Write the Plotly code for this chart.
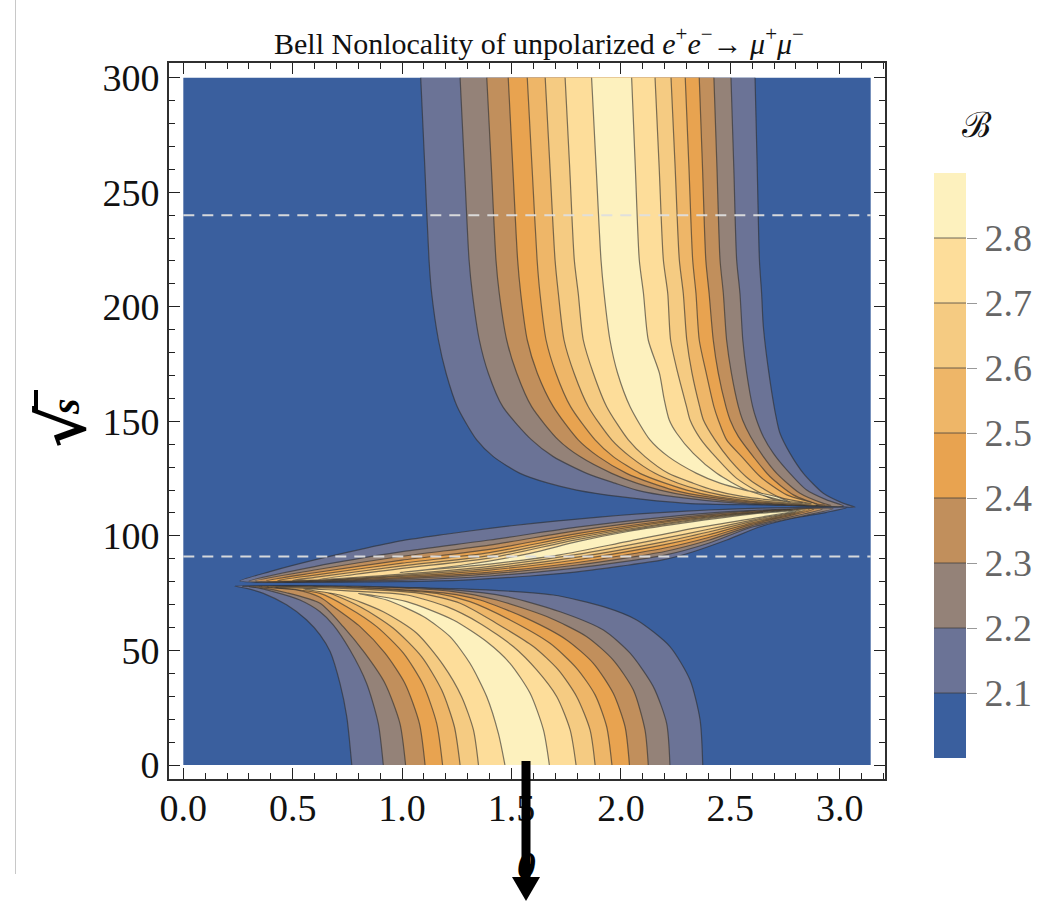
import plotly.graph_objects as go

W, H = 1058, 902

# ---------- data: contour lines as (theta, sqrt_s) ----------
levels = [2.1, 2.2, 2.3, 2.4, 2.5, 2.6, 2.7, 2.8]
band_colors = ["#6b7396", "#948278", "#c18f5c", "#e8a350", "#eeb668", "#f5cb82", "#fddd9a", "#fdf1be"]
base_color = "#3a5f9e"
colorbar_low = 2.0
colorbar_step = 0.1
colorbar_colors = [base_color] + band_colors
marked_energies = [91, 240]
theta_max = 3.1416
sqrt_s_max = 300

upper_21 = [(1.085,300),(1.104,260.6),(1.123,220.4),(1.135,205.9),(1.166,185.5),(1.201,171),(1.252,156.4),(1.341,141.9),(1.417,134.6),(1.539,127.3),(1.668,123),(1.798,120),(1.996,117.1),(2.301,114.2),(2.636,113.5),(2.94,113.1),(3.07,112.5),(3.017,114.2),(2.925,118.6),(2.834,127.3),(2.773,136),(2.727,144.8),(2.712,150.6),(2.681,168),(2.651,191.3),(2.643,205.9),(2.633,220.4),(2.623,260.6),(2.613,300)]
upper_22 = [(1.265,300),(1.285,260.6),(1.306,220.4),(1.321,205.9),(1.353,185.5),(1.394,171),(1.460,156.4),(1.592,141.9),(1.691,134.6),(1.844,127.3),(1.973,123),(2.072,120),(2.240,117.1),(2.544,114.2),(3.017,113.1),(2.94,115.7),(2.849,120),(2.758,128.8),(2.697,136),(2.651,143.3),(2.62,150.6),(2.602,156.4),(2.575,171),(2.557,185.5),(2.544,205.9),(2.529,220.4),(2.516,260.6),(2.503,300)]
upper_23 = [(1.387,300),(1.408,260.6),(1.429,220.4),(1.444,205.9),(1.478,185.5),(1.524,171),(1.592,156.4),(1.714,141.9),(1.813,134.6),(1.958,127.3),(2.072,123),(2.179,120),(2.331,117.1),(2.605,114.2),(2.96,113.3),(2.925,114.2),(2.818,118.6),(2.712,127.3),(2.651,134.6),(2.593,143.3),(2.556,150.6),(2.537,156.4),(2.505,171),(2.483,185.5),(2.468,205.9),(2.453,220.4),(2.439,260.6),(2.425,300)]
upper_24 = [(1.485,300),(1.506,260.6),(1.528,220.4),(1.542,205.9),(1.572,185.5),(1.618,171),(1.691,156.4),(1.805,141.9),(1.897,134.6),(2.026,127.3),(2.141,123),(2.240,120),(2.392,117.1),(2.66,114.2),(2.93,113.4),(2.90,113.8),(2.788,117.9),(2.681,125.9),(2.605,134.6),(2.537,143.3),(2.499,150.6),(2.48,156.4),(2.445,171),(2.422,185.5),(2.403,205.9),(2.388,220.4),(2.373,260.6),(2.358,300)]
upper_25 = [(1.572,300),(1.594,260.6),(1.617,220.4),(1.630,205.9),(1.658,185.5),(1.703,171),(1.770,156.4),(1.882,141.9),(1.965,134.6),(2.087,127.3),(2.202,123),(2.301,120),(2.438,117.1),(2.70,114.3),(2.90,113.6),(2.758,117.9),(2.636,125.9),(2.552,134.6),(2.483,141.9),(2.445,150.6),(2.425,156.4),(2.39,171),(2.358,185.5),(2.343,205.9),(2.328,220.4),(2.311,260.6),(2.294,300)]
upper_26 = [(1.654,300),(1.676,260.6),(1.699,220.4),(1.714,205.9),(1.740,185.5),(1.786,171),(1.851,156.4),(1.958,141.9),(2.042,134.6),(2.156,127.3),(2.262,123),(2.362,120),(2.499,117.1),(2.74,114.5),(2.87,114),(2.727,116.8),(2.590,124.4),(2.499,133.1),(2.430,141.9),(2.377,150.6),(2.36,156.4),(2.325,171),(2.301,185.5),(2.285,205.9),(2.267,220.4),(2.248,260.6),(2.229,300)]
upper_27 = [(1.745,300),(1.766,260.6),(1.787,220.4),(1.805,205.9),(1.828,185.5),(1.874,171),(1.935,156.4),(2.034,141.9),(2.110,134.6),(2.217,127.3),(2.331,123),(2.422,120),(2.560,117.1),(2.76,115),(2.83,114.5),(2.697,116),(2.529,125.1),(2.438,133.9),(2.362,142.6),(2.316,150.6),(2.30,156.4),(2.26,171),(2.227,185.5),(2.214,205.9),(2.194,220.4),(2.175,260.6),(2.156,300)]
upper_28 = [(1.866,300),(1.887,260.6),(1.909,220.4),(1.923,205.9),(1.950,185.5),(1.985,171),(2.042,156.4),(2.133,141.9),(2.217,134.6),(2.346,127.3),(2.453,123),(2.567,120),(2.712,117.1),(2.773,114.7),(2.758,115),(2.575,120),(2.438,127.3),(2.331,136),(2.255,144.8),(2.221,150.6),(2.197,160),(2.176,171),(2.125,185.5),(2.103,205.9),(2.084,220.4),(2.066,260.6),(2.049,300)]

lower_21 = [(0.770,0),(0.747,21.1),(0.716,35.6),(0.671,49.5),(0.625,56.8),(0.564,63.3),(0.472,69.9),(0.366,74.9),(0.290,77.1),(0.236,78.1),(0.549,78.1),(0.929,77.6),(1.386,76.4),(1.691,74.2),(1.920,69.1),(2.072,63.3),(2.224,51.7),(2.316,37.1),(2.362,19.6),(2.374,0)]
lower_22 = [(0.914,0),(0.891,18.2),(0.838,35.6),(0.762,50.2),(0.686,61.1),(0.625,66.9),(0.533,72),(0.411,75.7),(0.305,77.9),(0.27,78),(0.75,78.1),(1.234,76.4),(1.478,73.5),(1.722,66.9),(1.920,58.9),(2.042,48.8),(2.148,34.2),(2.209,18.2),(2.224,0)]
lower_23 = [(1.016,0),(0.990,18.2),(0.922,35.6),(0.830,48.8),(0.731,60.4),(0.625,70.6),(0.472,75.2),(0.335,77.6),(0.30,77.8),(0.75,77.9),(1.234,75.7),(1.432,72),(1.661,64.8),(1.844,56),(1.965,45.8),(2.057,32.7),(2.110,15.3),(2.125,0)]
lower_24 = [(1.105,0),(1.079,18.2),(1.013,35.6),(0.922,48.8),(0.808,60.4),(0.686,69.1),(0.625,73.2),(0.518,76.4),(0.350,77.8),(0.75,77.7),(1.204,74.9),(1.356,72),(1.569,64),(1.752,54.6),(1.874,44.4),(1.965,31.3),(2.019,16.7),(2.039,0)]
lower_25 = [(1.185,0),(1.158,18.2),(1.097,34.9),(1.006,48.8),(0.884,60.4),(0.747,69.1),(0.625,74.9),(0.50,76.8),(0.38,77.7),(0.75,77.5),(1.158,74.9),(1.310,71.3),(1.493,63.3),(1.676,53.1),(1.798,42.2),(1.882,30.6),(1.935,16.7),(1.959,0)]
lower_26 = [(1.265,0),(1.239,16.7),(1.181,32.7),(1.089,47.3),(0.960,59.7),(0.808,69.1),(0.625,76.4),(0.42,77.6),(0.70,77.2),(1.082,74.9),(1.265,70.6),(1.432,61.8),(1.600,51.7),(1.714,41.5),(1.798,29.8),(1.859,15.3),(1.882,0)]
lower_27 = [(1.349,0),(1.326,15.3),(1.272,29.8),(1.188,43.6),(1.067,57.5),(0.914,66.9),(0.716,74.2),(0.55,76.8),(0.75,76),(1.021,74.2),(1.204,69.1),(1.356,61.8),(1.508,51.7),(1.615,41.5),(1.707,29.8),(1.768,15.3),(1.795,0)]
lower_28 = [(1.470,0),(1.440,13.8),(1.387,29.8),(1.310,44.4),(1.219,56),(1.097,64.8),(0.930,72),(0.800,74.9),(1.021,71.3),(1.234,63.3),(1.387,53.8),(1.493,44.4),(1.585,31.3),(1.646,15.3),(1.673,0)]

middle_21 = [(0.259,80.3),(0.4,84.5),(0.6,89.5),(0.8,93.9),(1.0,97.9),(1.2,100.7),(1.4,103.3),(1.6,105.5),(1.8,107.3),(2.0,109),(2.2,110.3),(2.4,111.3),(2.6,112),(2.8,112.4),(3.03,112.3),(2.94,110.3),(2.788,107.7),(2.636,104),(2.483,98.2),(2.331,93.1),(2.19,89.5),(2.0,86.8),(1.8,84.3),(1.585,82.5),(1.28,80.7),(0.976,80),(0.6,79.7),(0.259,80.3)]
middle_22 = [(0.30,80.2),(0.6,86.6),(1.0,93.1),(1.4,98.2),(1.8,103.8),(2.2,108.2),(2.4,109.9),(2.6,111.1),(2.97,111.9),(2.6,103.9),(2.4,96.8),(2.2,91.6),(1.8,86),(1.4,82.5),(1.0,80.7),(0.6,80),(0.30,80.2)]
middle_23 = [(0.33,80.3),(0.6,85.1),(1.0,91.1),(1.4,96),(1.8,102.3),(2.2,107.3),(2.4,109.3),(2.6,110.8),(2.92,111.7),(2.6,104.5),(2.4,98.1),(2.2,93.2),(1.8,87.3),(1.4,83.4),(1.0,81.3),(0.6,80.2),(0.33,80.3)]
middle_24 = [(0.38,80.4),(0.6,83.9),(1.0,89.4),(1.4,94.1),(1.8,101),(2.2,106.5),(2.4,108.7),(2.6,110.5),(2.88,111.6),(2.6,105.1),(2.4,99.3),(2.2,94.7),(1.8,88.4),(1.4,84.2),(1.0,81.8),(0.6,80.3),(0.38,80.4)]
middle_25 = [(0.43,80.5),(0.6,82.9),(1.0,88.1),(1.4,92.7),(1.8,100),(2.2,106),(2.4,108.3),(2.6,110.2),(2.86,111.5),(2.6,105.7),(2.4,100.5),(2.2,96.2),(1.8,89.6),(1.4,85.1),(1.0,82.3),(0.6,80.5),(0.43,80.5)]
middle_26 = [(0.5,80.6),(0.6,81.9),(1.0,86.9),(1.4,91.4),(1.8,99.2),(2.2,105.4),(2.4,108),(2.6,110),(2.84,111.3),(2.6,106.3),(2.4,101.7),(2.2,97.5),(1.8,90.7),(1.4,85.8),(1.0,82.8),(0.6,80.7),(0.5,80.6)]
middle_27 = [(0.62,81),(1.0,85.8),(1.4,90.3),(1.8,98.4),(2.2,105),(2.4,107.6),(2.6,109.8),(2.82,111.2),(2.6,106.9),(2.4,102.9),(2.2,99),(1.8,91.9),(1.4,86.7),(1.0,83.3),(0.62,81)]
middle_28 = [(0.99,84),(1.28,87.3),(1.585,92.4),(1.8,97.5),(2.026,101.8),(2.331,106.2),(2.636,109.9),(2.80,110.9),(2.636,108.1),(2.331,103.3),(2.026,97.5),(1.72,91.7),(1.4,87.7),(1.1,85),(0.99,84)]

upper = [upper_21, upper_22, upper_23, upper_24, upper_25, upper_26, upper_27, upper_28]
lower = [lower_21, lower_22, lower_23, lower_24, lower_25, lower_26, lower_27, lower_28]
middle = [middle_21, middle_22, middle_23, middle_24, middle_25, middle_26, middle_27, middle_28]

title_text = "Bell Nonlocality of unpolarized <i>e</i><sup>+</sup><i>e</i><sup>−</sup>→ <i>μ</i><sup>+</sup><i>μ</i><sup>−</sup>"

# ---------- layout helpers (pixel positions in the page) ----------
def fx(p): return p / W
def fy(p): return 1 - p / H
SERIF = "Liberation Serif"

fig = go.Figure()

fig.add_trace(go.Scatter(x=[0, theta_max, theta_max, 0], y=[0, 0, sqrt_s_max, sqrt_s_max], fill="toself",
                         fillcolor=base_color, mode="lines", line=dict(width=0), hoverinfo="skip", showlegend=False))
for lobe in (upper, lower, middle):
    for curve, colour, level in zip(lobe, band_colors, levels):
        fig.add_trace(go.Scatter(
            x=[p[0] for p in curve], y=[p[1] for p in curve], mode="lines", fill="toself", fillcolor=colour,
            line=dict(color="rgba(45,45,45,0.62)", width=1.2, shape="spline", smoothing=0.7),
            name=str(level), hoverinfo="skip", showlegend=False))
for e in marked_energies:
    fig.add_trace(go.Scatter(x=[0, theta_max], y=[e, e], mode="lines", hoverinfo="skip", showlegend=False,
                             line=dict(color="rgba(222,222,222,0.95)", width=2, dash="11px,8px")))

fig.add_trace(go.Bar(x=[0] * len(colorbar_colors), y=[colorbar_step] * len(colorbar_colors),
                     base=[colorbar_low + i * colorbar_step for i in range(len(colorbar_colors))],
                     width=1, marker=dict(color=colorbar_colors, line=dict(width=0)),
                     xaxis="x2", yaxis="y2", hoverinfo="skip", showlegend=False))
for level in levels:
    fig.add_trace(go.Scatter(x=[-0.5, 0.5], y=[level, level], mode="lines", xaxis="x2", yaxis="y2",
                             line=dict(color="rgba(60,60,60,0.75)", width=1), hoverinfo="skip", showlegend=False))

axis_common = dict(showgrid=False, zeroline=False, showline=True, linecolor="#2f2f2f", linewidth=2, mirror="allticks",
                   ticks="inside", ticklen=11, tickwidth=1.2, tickcolor="#222", automargin=False,
                   tickfont=dict(family=SERIF, size=38, color="#111"))
fig.update_layout(
    width=W, height=H, margin=dict(l=0, r=0, t=0, b=0), paper_bgcolor="white", plot_bgcolor="white", barmode="overlay",
    xaxis=dict(domain=[fx(169), fx(885)], range=[-0.0654, 3.207], tick0=0, dtick=0.5, tickformat=".1f", ticklabelstandoff=-6,
               minor=dict(dtick=0.1, ticks="inside", ticklen=6, tickwidth=1.2, tickcolor="#222"), **axis_common),
    yaxis=dict(domain=[fy(779), fy(63)], range=[-6.11, 306.4], tick0=0, dtick=50,
               minor=dict(dtick=10, ticks="inside", ticklen=6, tickwidth=1.2, tickcolor="#222"), **axis_common),
    xaxis2=dict(domain=[fx(934), fx(966)], range=[-0.5, 0.5], visible=False, anchor="y2", fixedrange=True, automargin=False),
    yaxis2=dict(domain=[fy(758), fy(173)], range=[colorbar_low, 2.9], anchor="x2", side="right", tickvals=levels,
                ticktext=[f"{v:.1f}" for v in levels], ticks="outside", ticklen=10, tickwidth=1, tickcolor="#999",
                showgrid=False, zeroline=False, showline=False, automargin=False,
                tickfont=dict(family=SERIF, size=38, color="#666")),
    annotations=[
        dict(text=title_text, x=fx(539), y=fy(41), xref="paper", yref="paper", showarrow=False, xanchor="center", yanchor="middle",
             font=dict(family=SERIF, size=30, color="#111")),
        dict(text="ℬ", x=fx(977), y=fy(125), xref="paper", yref="paper", showarrow=False, xanchor="center", yanchor="middle",
             font=dict(family="DejaVu Serif", size=35, color="#111")),
        dict(text="<b>√</b>", x=fx(62), y=fy(427), xref="paper", yref="paper", showarrow=False, textangle=-90, xanchor="center", yanchor="middle",
             font=dict(family="DejaVu Serif", size=64, color="#000")),
        dict(text="<b><i>s</i></b>", x=fx(66), y=fy(407), xref="paper", yref="paper", showarrow=False, textangle=-90, xanchor="center", yanchor="middle",
             font=dict(family=SERIF, size=40, color="#000")),
        dict(text="<b><i>θ</i></b>", x=fx(526), y=fy(866), xref="paper", yref="paper", showarrow=False, xanchor="center", yanchor="middle",
             font=dict(family=SERIF, size=36, color="#000")),
    ],
    shapes=[
        dict(type="line", xref="paper", yref="paper", x0=fx(15.5), x1=fx(15.5), y0=fy(0), y1=fy(874),
             line=dict(color="#c8c8c8", width=1)),
        dict(type="line", xref="paper", yref="paper", x0=fx(36), x1=fx(36), y0=fy(390), y1=fy(413),
             line=dict(color="#000", width=4)),
        dict(type="line", xref="paper", yref="paper", x0=fx(526), x1=fx(526), y0=fy(761), y1=fy(880),
             line=dict(color="#000", width=9)),
        dict(type="path", xref="paper", yref="paper", fillcolor="#000", line=dict(width=0),
             path=f"M {fx(512)} {fy(877)} L {fx(540)} {fy(877)} L {fx(526)} {fy(901)} Z"),
    ],
)

fig.write_html("out.html", config={"displayModeBar": False}, post_script="document.body.style.margin='0';")
